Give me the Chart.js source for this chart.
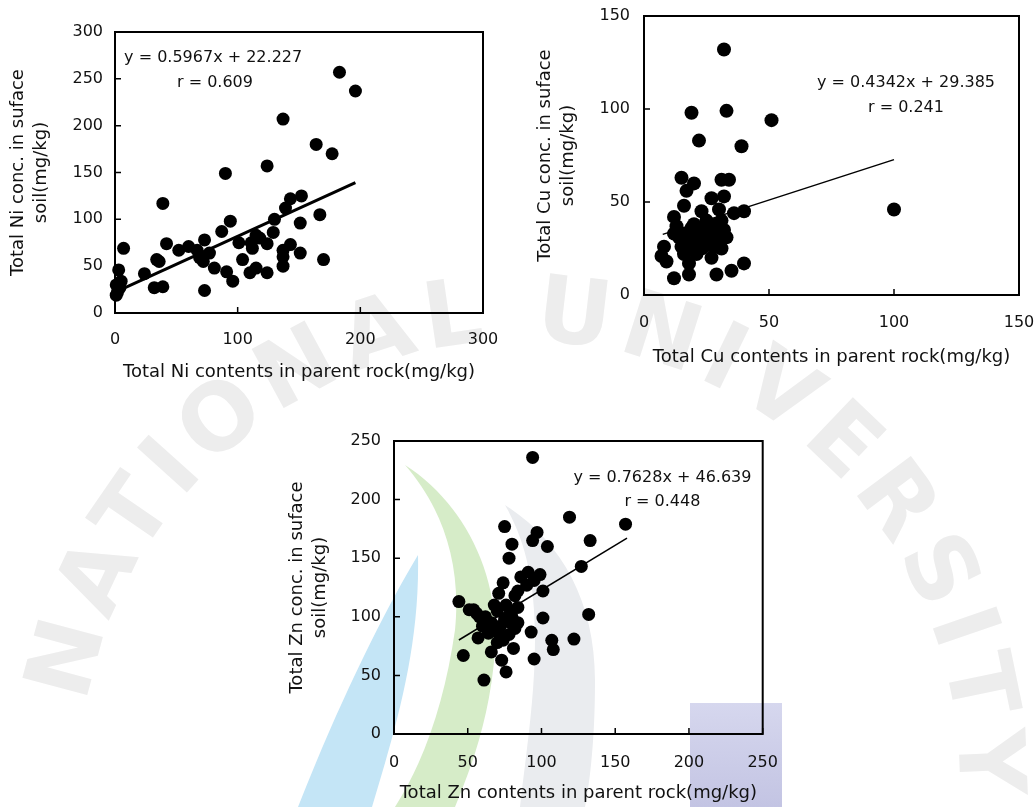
<!DOCTYPE html>
<html lang="en">
<head>
<meta charset="UTF-8">
<title>Total Ni, Cu, Zn: parent rock vs surface soil</title>
<script src="https://cdn.jsdelivr.net/npm/chart.js"></script>
<style>
  body { margin: 0; background: #fff; }
  #page { position: relative; width: 1036px; height: 807px; overflow: hidden; }
  #bg { position: absolute; left: 0; top: 0; }
  .box { position: absolute; }
  #niBox { left: 0; top: 0; width: 500px; height: 400px; }
  #cuBox { left: 520px; top: 0; width: 516px; height: 380px; }
  #znBox { left: 280px; top: 420px; width: 500px; height: 387px; }
</style>
</head>
<body>
<div id="page">
  <!-- faint watermark behind the charts -->
  <svg id="bg" width="1036" height="807">
    <defs>
      <path id="arc" d="M 86.7 703.6 A 440 440 0 0 1 959.7 795.4" fill="none"/>
      <linearGradient id="lav" x1="0" y1="0" x2="0" y2="1">
        <stop offset="0" stop-color="#d6d7ee"/>
        <stop offset="1" stop-color="#c3c4e3"/>
      </linearGradient>
    </defs>
    <text font-family="DejaVu Sans" font-weight="bold" font-size="92" fill="#ededed">
      <textPath href="#arc" textLength="1321" lengthAdjust="spacing">NATIONAL UNIVERSITY</textPath>
    </text>
    <path d="M 418 555 C 385 610, 340 700, 298 807 L 372 807 C 395 730, 420 650, 418 555 Z" fill="#c4e5f6"/>
    <path d="M 405 465 C 460 500, 500 570, 495 650 C 490 720, 470 770, 455 807 L 395 807 C 425 760, 445 700, 455 630 C 462 560, 440 505, 405 465 Z" fill="#d6ecc8"/>
    <path d="M 505 505 C 560 540, 595 600, 595 680 C 595 740, 590 780, 585 807 L 520 807 C 525 760, 535 700, 535 640 C 535 580, 525 540, 505 505 Z" fill="#eaecef"/>
    <rect x="690" y="703" width="92" height="104" fill="url(#lav)"/>
  </svg>
  <div class="box" id="niBox"><canvas id="ni"></canvas></div>
  <div class="box" id="cuBox"><canvas id="cu"></canvas></div>
  <div class="box" id="znBox"><canvas id="zn"></canvas></div>
</div>

<script>
// ---- Ni ----
const niX = [183, 196, 137, 164, 177, 124, 90, 39, 152, 143, 139, 167, 130, 151, 94, 87, 129, 115, 101, 111,
             124, 112, 7, 42, 52, 60, 67, 73, 69, 77, 34, 137, 143, 151, 104, 170, 137, 81, 91, 110,
             115, 124, 96, 24, 3, 5, 1, 1, 32, 39, 73, 118, 137, 72, 36, 4, 2];
const niY = [257, 237, 207, 180, 170, 157, 149, 117, 125, 122, 112, 105, 100, 96, 98, 87, 86, 83, 75, 75,
             74, 69, 69, 74, 67, 71, 67, 78, 59, 64, 57, 67, 73, 64, 57, 57, 50, 48, 44, 43,
             48, 43, 34, 42, 46, 34, 30, 19, 27, 28, 24, 80, 60, 55, 55, 27, 22];
const niFitX = [2, 196];
const niFitY = [23.4, 139.2];
const niXTicks = [0, 100, 200, 300];
const niYTicks = [0, 50, 100, 150, 200, 250, 300];
const niText = ['y = 0.5967x + 22.227', 'r = 0.609'];

// ---- Cu ----
const cuX = [32, 19, 33, 51, 22, 39, 100, 15, 20, 31, 34, 17, 27, 32, 30, 23, 16, 36, 40, 12,
             13, 20, 25, 29, 32, 12, 17, 21, 25, 29, 18, 22, 26, 30, 15, 20, 24, 28, 33, 8,
             7, 9, 18, 27, 31, 40, 12, 18, 29, 35, 16, 23, 19, 27, 14, 31, 24, 21];
const cuY = [132, 98, 99, 94, 83, 80, 46, 63, 60, 62, 62, 56, 52, 53, 46, 45, 48, 44, 45, 42,
             37, 38, 40, 38, 35, 33, 33, 33, 33, 33, 29, 29, 29, 29, 26, 26, 26, 26, 31, 26,
             21, 18, 17, 20, 25, 17, 9, 11, 11, 13, 22, 25, 36, 36, 31, 40, 37, 22];
const cuFitX = [7.5, 100];
const cuFitY = [32.6, 72.8];
const cuXTicks = [0, 50, 100, 150];
const cuYTicks = [0, 50, 100, 150];
const cuText = ['y = 0.4342x + 29.385', 'r = 0.241'];

// ---- Zn ----
const znX = [94, 119, 157, 75, 97, 94, 133, 80, 104, 78, 127, 91, 99, 86, 74, 95, 90, 84, 101, 71,
             82, 44, 51, 56, 132, 101, 79, 93, 107, 108, 122, 57, 47, 95, 66, 73, 76, 61, 81, 82,
             62, 66, 70, 68, 72, 75, 78, 74, 70, 64, 79, 76, 68, 72, 80, 58, 84, 84, 60, 54];
const znY = [236, 185, 179, 177, 172, 165, 165, 162, 160, 150, 143, 138, 136, 134, 129, 131, 127, 122, 122, 120,
             118, 113, 106, 103, 102, 99, 104, 87, 80, 72, 81, 82, 67, 64, 70, 63, 53, 46, 73, 90,
             100, 95, 105, 88, 92, 98, 85, 80, 78, 86, 95, 110, 110, 84, 100, 100, 95, 108, 92, 106];
const znFitX = [44, 158];
const znFitY = [80.2, 167.2];
const znXTicks = [0, 50, 100, 150, 200, 250];
const znYTicks = [0, 50, 100, 150, 200, 250];
const znText = ['y = 0.7628x + 46.639', 'r = 0.448'];

const ink = '#111';
const tickFont = { family: 'DejaVu Sans', size: 16 };
const titleFont = { family: 'DejaVu Sans', size: 18 };

const toPoints = (xs, ys) => xs.map((x, i) => ({ x, y: ys[i] }));

// box round the plot, inward tick marks, and the fit equation
const frame = {
  id: 'frame',
  afterDatasetsDraw(chart, args, opts) {
    const { ctx, chartArea: a, scales: { x, y } } = chart;
    ctx.save();
    ctx.strokeStyle = '#000';
    ctx.lineWidth = 2;
    ctx.strokeRect(a.left, a.top, a.right - a.left, a.bottom - a.top);
    ctx.lineWidth = 1.5;
    ctx.beginPath();
    x.ticks.forEach(t => {
      const p = x.getPixelForValue(t.value);
      ctx.moveTo(p, a.bottom); ctx.lineTo(p, a.bottom - 6);
    });
    y.ticks.forEach(t => {
      const p = y.getPixelForValue(t.value);
      ctx.moveTo(a.left, p); ctx.lineTo(a.left + 6, p);
    });
    ctx.stroke();
    ctx.fillStyle = ink;
    ctx.font = '16px "DejaVu Sans"';
    ctx.textAlign = 'center';
    ctx.textBaseline = 'middle';
    opts.lines.forEach((txt, i) => {
      ctx.fillText(txt, x.getPixelForValue(opts.at[i][0]), y.getPixelForValue(opts.at[i][1]));
    });
    ctx.restore();
  }
};

function scatterChart(id, o) {
  return new Chart(document.getElementById(id), {
    type: 'scatter',
    data: {
      datasets: [
        { data: o.points, backgroundColor: '#000', borderWidth: 0, pointRadius: o.r, pointHoverRadius: o.r, clip: false },
        { data: o.fit, showLine: true, borderColor: '#000', borderWidth: o.fitWidth, pointRadius: 0, clip: false }
      ]
    },
    options: {
      responsive: true,
      maintainAspectRatio: false,
      animation: false,
      layout: { padding: o.pad },
      plugins: {
        legend: { display: false },
        tooltip: { enabled: false },
        frame: { lines: o.text, at: o.textAt }
      },
      scales: {
        x: {
          type: 'linear',
          min: o.xTicks[0], max: o.xTicks[o.xTicks.length - 1],
          afterBuildTicks: s => { s.ticks = o.xTicks.map(v => ({ value: v })); },
          afterFit: s => { s.height = o.xH; },
          // the hidden tick length sets the gap to the labels
          grid: { display: false, tickLength: o.xGap },
          border: { display: false },
          ticks: { padding: 0, font: tickFont, color: ink, maxRotation: 0, autoSkip: false },
          title: { display: true, text: o.xTitle, font: titleFont, color: ink, padding: { top: 0, bottom: o.xTitlePad } }
        },
        y: {
          type: 'linear',
          min: o.yTicks[0], max: o.yTicks[o.yTicks.length - 1],
          afterBuildTicks: s => { s.ticks = o.yTicks.map(v => ({ value: v })); },
          afterFit: s => { s.width = o.yW; },
          grid: { display: false, tickLength: o.yGap },
          border: { display: false },
          ticks: { padding: 0, font: tickFont, color: ink, autoSkip: false },
          title: { display: true, text: o.yTitle, font: { family: 'DejaVu Sans', size: 18, lineHeight: 1.3 }, color: ink, padding: { top: o.yTitlePad, bottom: 0 } }
        }
      }
    },
    plugins: [frame]
  });
}

scatterChart('ni', {
  points: toPoints(niX, niY), fit: toPoints(niFitX, niFitY), r: 6.5, fitWidth: 3,
  xTicks: niXTicks, yTicks: niYTicks,
  pad: { top: 32, right: 17, bottom: 0, left: 0 }, xH: 87, yW: 115,
  xGap: 17.4, yGap: 12, xTitlePad: 17, yTitlePad: 6.6,
  xTitle: 'Total Ni contents in parent rock(mg/kg)',
  yTitle: ['Total Ni conc. in suface', 'soil(mg/kg)'],
  text: niText, textAt: [[80, 272], [81.5, 245.5]]
});

scatterChart('cu', {
  points: toPoints(cuX, cuY), fit: toPoints(cuFitX, cuFitY), r: 7, fitWidth: 1.5,
  xTicks: cuXTicks, yTicks: cuYTicks,
  pad: { top: 16, right: 17, bottom: 0, left: 0 }, xH: 85, yW: 124,
  xGap: 18, yGap: 14, xTitlePad: 12, yTitlePad: 13.3,
  xTitle: 'Total Cu contents in parent rock(mg/kg)',
  yTitle: ['Total Cu conc. in suface', 'soil(mg/kg)'],
  text: cuText, textAt: [[104.8, 114], [104.8, 100.4]]
});

scatterChart('zn', {
  points: toPoints(znX, znY), fit: toPoints(znFitX, znFitY), r: 6.5, fitWidth: 1.5,
  xTicks: znXTicks, yTicks: znYTicks,
  pad: { top: 21, right: 17.3, bottom: 0, left: 0 }, xH: 73, yW: 114,
  xGap: 19.4, yGap: 13, xTitlePad: 3, yTitlePad: 5.6,
  xTitle: 'Total Zn contents in parent rock(mg/kg)',
  yTitle: ['Total Zn conc. in suface', 'soil(mg/kg)'],
  text: znText, textAt: [[182, 218.5], [182, 198]]
});
</script>
</body>
</html>
